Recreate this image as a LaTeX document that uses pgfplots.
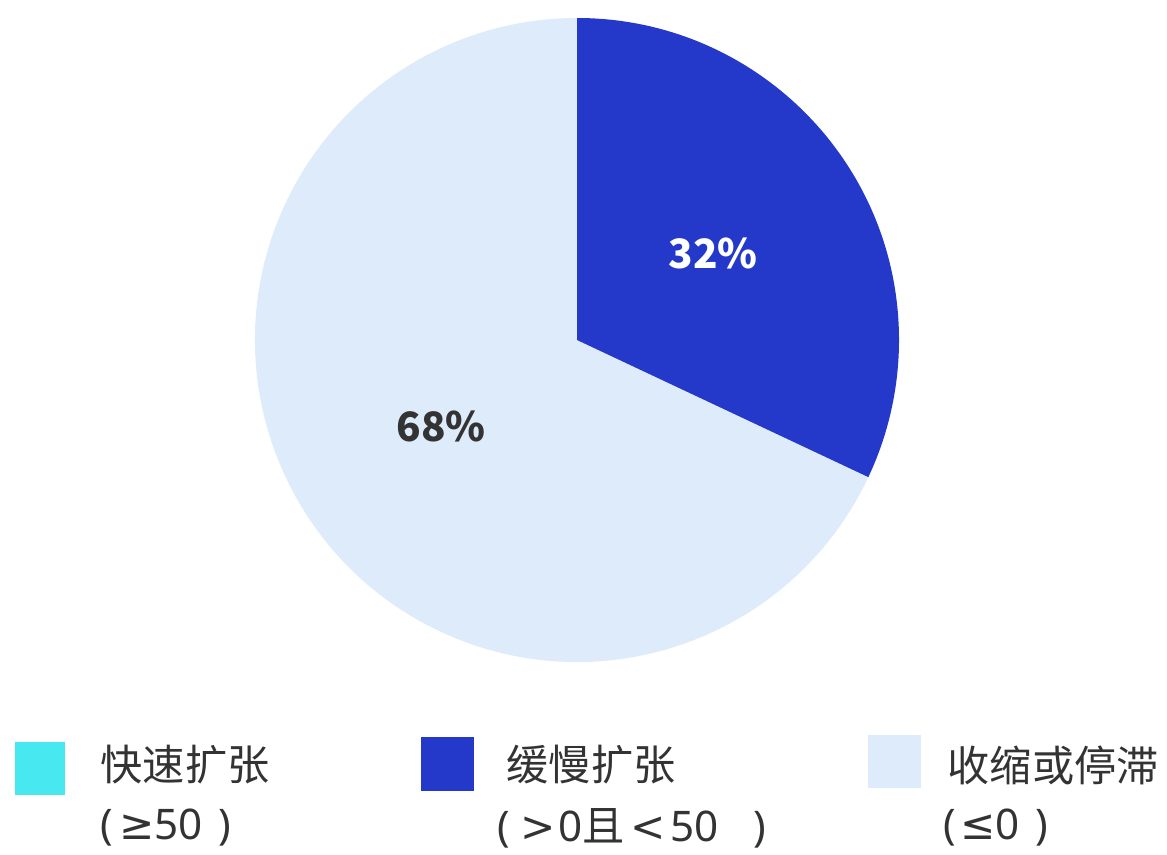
\documentclass[border=0pt]{standalone}
\usepackage{pgfplots}
\pgfplotsset{compat=1.18}
\usepackage{pgfplotstable}
\usepackage{fontspec}
\setmainfont{Noto Sans CJK SC}
\newfontfamily\lat{Noto Sans}
\newfontfamily\dv{DejaVu Sans}
\definecolor{cFast}{HTML}{48E8F0}
\definecolor{cSlow}{HTML}{2438CA}
\definecolor{cStag}{HTML}{DDEBFB}
\definecolor{cTxt}{HTML}{333333}
\pgfplotstableread{
id value
0 0
1 32
2 68
}\piedata
\begin{document}%
\pgfplotstablegetelem{0}{value}\of\piedata \let\vA\pgfplotsretval%
\pgfplotstablegetelem{1}{value}\of\piedata \let\vB\pgfplotsretval%
\pgfplotstablegetelem{2}{value}\of\piedata \let\vC\pgfplotsretval%
\pgfmathsetmacro{\aA}{90-3.6*\vA}%
\pgfmathsetmacro{\aB}{\aA-3.6*\vB}%
\pgfmathsetmacro{\aC}{\aB-3.6*\vC}%
\pgfmathsetmacro{\mB}{(\aA+\aB)/2}%
\pgfmathsetmacro{\mC}{(\aB+\aC)/2}%
\begin{tikzpicture}[x=1cm,y=1cm]
\path[use as bounding box] (0,0) rectangle (11.67,8.54);
\begin{axis}[
  at={(5.77cm,5.14cm)}, anchor=center,
  scale only axis, width=6.44cm, height=6.44cm,
  xmin=-1, xmax=1, ymin=-1, ymax=1,
  hide axis, clip=false,
]
\fill[cStag] (axis cs:0,0) -- ++(\aB:3.22cm) arc[start angle=\aB, end angle=\aC, radius=3.22cm] -- cycle;
\fill[cSlow] (axis cs:0,0) -- ++(\aA:3.22cm) arc[start angle=\aA, end angle=\aB, radius=3.22cm] -- cycle;
\node[text=white, font=\fontsize{11.5}{14}\selectfont\bfseries] at (axis cs:{0.5*cos(\mB)},{0.5*sin(\mB)}) {\vB\%};
\node[text=cTxt, font=\fontsize{11.5}{14}\selectfont\bfseries] at (axis cs:{0.5*cos(\mC)},{0.5*sin(\mC)}) {\vC\%};
\end{axis}
\begin{scope}[every node/.style={text=cTxt, font=\fontsize{12}{14}\selectfont, inner sep=0pt, anchor=west}]
\fill[cFast] (0.15,0.59) rectangle (0.65,1.12);
\fill[cSlow] (4.21,0.63) rectangle (4.74,1.17);
\fill[cStag] (8.68,0.66) rectangle (9.21,1.19);
\node at (1.00,0.89) {快速扩张};
\node at (1.00,0.26) {{\lat (}\hspace{0.6mm}{\dv ≥}{\lat 50}\hspace{1.6mm}{\lat )}};
\node at (5.06,0.89) {缓慢扩张};
\node at (4.97,0.26) {{\lat (}\hspace{1mm}{\dv >}\hspace{0.3mm}{\lat 0}且\hspace{0.5mm}{\dv <}\hspace{0.5mm}{\lat 50}\hspace{3.5mm}{\lat )}};
\node at (9.43,0.26) {{\lat (}\hspace{0.4mm}{\dv ≤}{\lat 0}\hspace{1.6mm}{\lat )}};
\node at (9.47,0.89) {收缩或停滞};
\end{scope}
\end{tikzpicture}%
\end{document}
